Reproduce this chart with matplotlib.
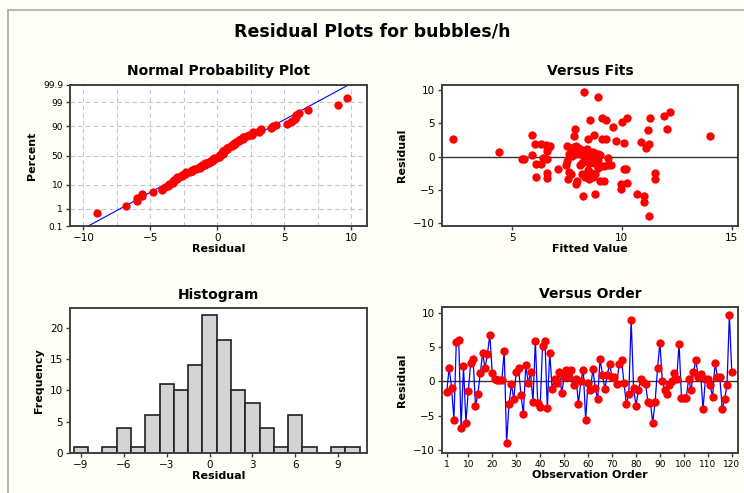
from statistics import NormalDist

import numpy as np
import matplotlib
matplotlib.use("Agg")
import matplotlib.pyplot as plt
from matplotlib.patches import Rectangle

# residuals in observation order (1..120)
residuals = [
    -1.6, 2.0, -0.9, -5.6, 5.8, 6.1, -6.8, 2.2, -6.0, -1.4,
    2.7, 3.3, -3.6, -1.9, 1.2, 4.1, 1.9, 4.0, 6.8, 1.2,
    0.4, 0.2, 0.2, 0.2, 4.4, -9.0, -3.3, -0.4, -2.6, 1.4,
    1.9, -2.0, -4.8, 2.4, -0.2, 1.3, -3.0, 5.9, -3.2, -3.7,
    5.2, 5.9, -3.9, 4.2, -1.1, 0.4, -0.3, 1.4, -1.7, 0.6,
    1.6, 0.7, 1.6, -0.6, 0.4, -3.3, 0.1, 1.6, -5.6, -0.2,
    -1.3, 1.8, -0.9, -2.6, 3.3, 1.0, -1.1, 0.9, 2.6, 0.6,
    0.7, -0.4, 2.6, 3.1, -0.3, -3.3, -1.9, 9.0, -0.9, -3.6,
    -1.3, 0.3, -0.1, -0.4, -3.0, -3.1, -6.0, -3.0, 1.9, 5.6,
    0.1, -1.2, -1.9, -0.6, 0.1, 1.2, 0.4, 5.5, -2.4, -2.4,
    -2.4, 0.4, -1.3, 1.3, 3.1, 0.7, 1.1, -4.1, 0.4, 0.4,
    -0.6, -2.3, 2.7, 0.7, 0.7, -4.1, -2.6, -0.6, 9.7, 1.3,
]

# fitted values, same order
fitted = [
    8.95, 10.1, 8.75, 10.7, 9.1, 11.9, 11.0, 10.85, 11.0, 9.2,
    9.1, 8.75, 7.95, 7.1, 7.85, 12.05, 6.05, 11.2, 12.2, 8.1,
    7.6, 8.4, 8.7, 9.0, 9.6, 11.25, 7.55, 5.45, 8.2, 6.7,
    6.3, 8.45, 9.95, 9.75, 6.4, 11.1, 6.1, 11.3, 6.6, 9.2,
    10.0, 10.25, 10.25, 7.85, 6.1, 8.3, 8.45, 7.8, 8.9, 8.0,
    7.5, 4.4, 6.75, 8.35, 8.8, 11.5, 8.5, 7.9, 8.8, 9.35,
    7.45, 6.55, 8.2, 8.8, 5.9, 8.2, 6.3, 6.6, 2.3, 8.6,
    7.7, 5.55, 8.45, 7.8, 8.65, 8.5, 10.1, 8.9, 8.5, 9.0,
    9.35, 5.9, 8.8, 6.6, 8.3, 8.7, 8.25, 8.6, 11.25, 9.3,
    7.75, 8.1, 10.2, 8.9, 8.25, 8.4, 8.9, 8.55, 6.6, 11.5,
    8.6, 7.9, 9.5, 7.7, 14.0, 8.5, 7.95, 9.95, 8.15, 8.55,
    8.6, 7.6, 9.3, 8.7, 8.3, 7.9, 7.7, 7.5, 8.26, 8.0,
]

prob_ticks = [0.1, 1, 10, 50, 90, 99, 99.9]
prob_tick_labels = ["0.1", "1", "10", "50", "90", "99", "99.9"]
hist_ticks = [-9, -6, -3, 0, 3, 6, 9]
order_ticks = [1, 10, 20, 30, 40, 50, 60, 70, 80, 90, 100, 110, 120]

BG = "#fffff7"
RED = "#ff0000"
BLUE = "#0000ff"
SPINE = "#404040"
DOT = 36

plt.rcParams["font.family"] = "DejaVu Sans"

fig = plt.figure(figsize=(7.44, 4.93), dpi=100, facecolor=BG)

# gray frame round the graph window
fig.add_artist(Rectangle((8 / 744, -0.1), 1.2, 1 - 10 / 493 + 0.1,
                         transform=fig.transFigure, fill=False,
                         edgecolor="#a8a8a8", lw=1.2))

fig.text(0.5, 1 - 31 / 493, "Residual Plots for bubbles/h", ha="center",
         va="center", fontsize=12.5, fontweight="bold")


def style(ax, title, xlabel, ylabel):
    ax.set_facecolor("white")
    for s in ax.spines.values():
        s.set_color(SPINE)
        s.set_linewidth(1.4)
    ax.tick_params(direction="out", length=3, width=1, labelsize=7.5,
                   color=SPINE, pad=2)
    ax.set_title(title, fontsize=10, fontweight="bold", pad=7)
    ax.set_xlabel(xlabel, fontsize=8, fontweight="bold", labelpad=1)
    ax.set_ylabel(ylabel, fontsize=8, fontweight="bold", labelpad=4)


res = np.array(residuals)
n = len(res)
nd = NormalDist()

# --- normal probability plot ---
ax1 = fig.add_axes([70 / 744, 1 - 226 / 493, 297 / 744, 141 / 493])
srt = np.sort(res)
z = np.array([nd.inv_cdf((i - 0.3) / (n + 0.4)) for i in range(1, n + 1)])
mu, sd = res.mean(), res.std(ddof=1)
zline = np.array([-4.0, 4.0])
ax1.plot(mu + sd * zline, zline, color=BLUE, lw=0.8, zorder=2)
ax1.scatter(srt, z, s=DOT, color=RED, zorder=3, linewidths=0)
zt = [nd.inv_cdf(p / 100) for p in prob_ticks]
ax1.set_yticks(zt)
ax1.set_yticklabels(prob_tick_labels)
ax1.set_ylim(zt[0], zt[-1])
ax1.set_xlim(-11, 11.2)
ax1.set_xticks([-10, -5, 0, 5, 10])
for gx in np.arange(-10, 10.1, 2.5):
    ax1.axvline(gx, color="#c8c8c8", lw=0.8, ls=(0, (4, 3)), zorder=1)
for gy in zt[1:-1]:
    ax1.axhline(gy, color="#c8c8c8", lw=0.8, ls=(0, (4, 3)), zorder=1)
style(ax1, "Normal Probability Plot", "Residual", "Percent")
ax1.tick_params(axis="y", labelsize=6.5)

# --- versus fits ---
ax2 = fig.add_axes([441.7 / 744, 1 - 225.7 / 493, 296.6 / 744, 140.7 / 493])
ax2.axhline(0, color="#333333", lw=1, zorder=1)
ax2.scatter(fitted, residuals, s=DOT, color=RED, zorder=3, linewidths=0)
ax2.set_xlim(1.8, 15.3)
ax2.set_ylim(-10.4, 10.8)
ax2.set_xticks([5, 10, 15])
ax2.set_yticks([-10, -5, 0, 5, 10])
style(ax2, "Versus Fits", "Fitted Value", "Residual")

# --- histogram ---
ax3 = fig.add_axes([70 / 744, 1 - 453 / 493, 296.7 / 744, 144.7 / 493])
edges = np.arange(-9.5, 11.0, 1.0)
ax3.hist(res, bins=edges, color="#d3d3d3", edgecolor="#202020", lw=1.2,
         zorder=2)
ax3.set_xlim(-9.77, 11.0)
ax3.set_ylim(0, 23.1)
ax3.set_xticks(hist_ticks)
ax3.set_yticks([0, 5, 10, 15, 20])
style(ax3, "Histogram", "Residual", "Frequency")

# --- versus order ---
ax4 = fig.add_axes([441.7 / 744, 1 - 452.7 / 493, 296.3 / 744, 145.4 / 493])
obs = np.arange(1, n + 1)
ax4.axhline(0, color="#333333", lw=1, zorder=1)
ax4.plot(obs, residuals, color=BLUE, lw=0.9, zorder=2)
ax4.scatter(obs, residuals, s=DOT, color=RED, zorder=3, linewidths=0)
ax4.set_xlim(-1.1, 122.6)
ax4.set_ylim(-10.4, 10.8)
ax4.set_xticks(order_ticks)
ax4.set_yticks([-10, -5, 0, 5, 10])
style(ax4, "Versus Order", "Observation Order", "Residual")
ax4.tick_params(axis="x", labelsize=6.5)

fig.savefig("out.png", dpi=100, facecolor=BG)
